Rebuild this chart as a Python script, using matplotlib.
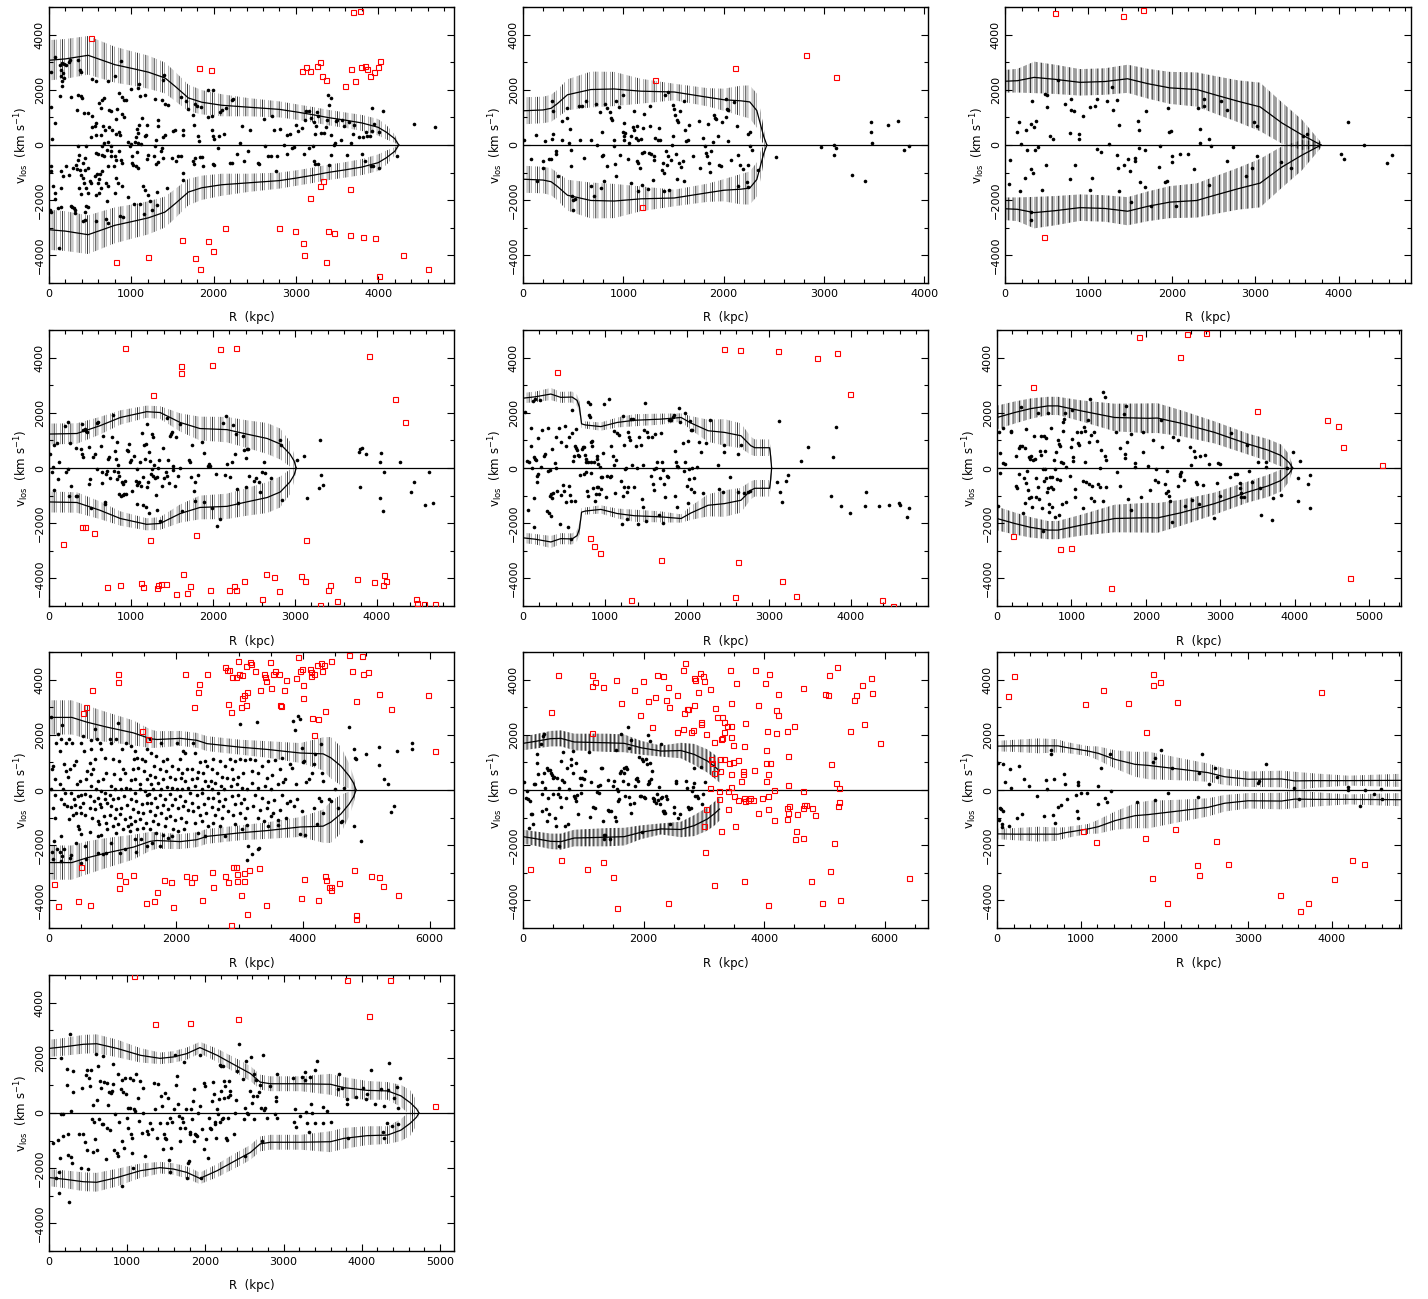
import numpy as np
import matplotlib
matplotlib.use("Agg")
import matplotlib.pyplot as plt
from matplotlib.ticker import MultipleLocator

plt.rcParams["font.family"] = ["DejaVu Sans"]
plt.rcParams["font.size"] = 8
plt.rcParams["hatch.linewidth"] = 0.55
plt.rcParams["axes.unicode_minus"] = True

# ---------------------------------------------------------------- cluster 1
members_1 = [
    (20,2636),(69,3180),(130,2914),(159,2974),(183,2938),(211,2914),(240,2998),(252,3071),(150,2732),(171,2611),
    (142,2491),(183,2430),(159,2309),(159,2128),(374,2708),(386,2648),(353,3095),(528,2394),(577,2309),(711,2333),
    (800,2491),(873,3035),(995,2031),(1076,2067),(1092,2212),(1397,2551),(1389,2370),(130,1765),(264,1741),(353,1801),
    (386,1765),(406,1705),(638,1644),(670,1717),(605,1523),(629,1342),(727,1257),(751,1221),(849,1886),(881,1741),
    (914,1644),(934,1644),(828,1306),(889,1136),(914,1016),(1105,1765),(1161,1826),(1287,1668),(1377,1644),(1409,1499),
    (1441,1463),(1600,1741),(1661,1584),(1685,1306),(1774,1499),(1795,1402),(1847,1378),(1937,2007),(1990,1983),(1754,1100),
    (1937,1003),(1981,1040),(2099,1282),(2079,1185),(2221,1644),(2241,1681),(2152,1342),(2343,701),(29,1378),(77,798),
    (37,230),(345,1282),(426,1161),(475,1161),(528,1040),(577,798),(556,701),(528,653),(658,701),(678,532),
    (731,653),(767,556),(812,955),(849,459),(861,375),(820,399),(1125,967),(1092,737),(1186,737),(1064,592),
    (1076,435),(1174,375),(1056,290),(1328,919),(1328,677),(1409,351),(1389,290),(1511,520),(1531,556),(1632,532),
    (1624,375),(1766,725),(1815,314),(1827,157),(1986,556),(1990,314),(2010,218),(2067,314),(2132,411),(2323,73),
    (516,278),(577,375),(629,375),(670,73),(719,97),(962,121),(995,48),(1044,97),(1084,73),(1113,48),
    (1165,314),(1295,169),
    (353,-48),(447,-48),(638,-24),(759,-48),(983,-24),(1287,-48),(1369,-109),(1360,-230),(366,-351),(353,-532),
    (414,-653),(435,-472),(577,-290),(597,-314),(646,-351),(670,-411),(699,-193),(759,-230),(751,-411),(800,-411),
    (849,-206),(820,-532),(873,-532),(881,-653),(792,-774),(1003,-411),(1064,-266),(1206,-351),(1186,-508),(1279,-411),
    (1295,-689),(1320,-629),(1389,-472),(1498,-472),(1539,-592),(1571,-411),(1604,-411),(1754,-592),(1774,-472),(1835,-435),
    (1864,-435),(1766,-677),(1876,-774),(1990,-677),(2002,-713),(2050,-109),(2201,-653),(2229,-653),(2363,-592),(2416,-206),
    (2282,-326),(29,-774),(20,-955),(49,-1499),(69,-1741),(142,-955),(171,-1136),(150,-1560),(211,-774),(244,-1076),
    (293,-834),(325,-713),(345,-870),(378,-895),(394,-1076),(414,-1197),(475,-834),(435,-895),(426,-1378),(455,-1560),
    (496,-1294),(508,-1378),(556,-1136),(589,-1040),(617,-1052),(638,-955),(605,-1233),(597,-1378),(629,-1560),(609,-1741),
    (577,-1801),(475,-1741),(711,-774),(690,-1378),(719,-1499),(820,-1197),(841,-1378),(881,-1475),(707,-2019),(800,-1741),
    (954,-1886),(1003,-653),(1023,-713),(1052,-774),(1084,-834),(1137,-1475),(1165,-1620),(1206,-1801),(1308,-1717),(1429,-1560),
    (1035,-2128),(1105,-2128),(1226,-2043),(1632,-1016),(1624,-1257),(69,-1959),(110,-2285),(150,-2261),(264,-2225),(280,-2249),
    (305,-2285),(321,-2345),(313,-2466),(435,-2442),(455,-2225),(475,-2249),(362,-1560),(394,-1777),(8,-2370),(29,-2442),
    (118,-3736),(414,-2769),(435,-2708),(577,-2769),(698,-2684),(719,-2829),(861,-2587),(902,-2611),(1157,-2503),(1247,-2370),
    (1308,-2164),
    (2609,942),(2710,1063),(2738,556),(2803,592),(2893,374),(2933,387),(3006,737),(3027,495),(3075,616),(3116,918),
    (3120,1220),(3156,1220),(3189,978),(3217,821),(3242,701),(3254,1196),(3266,1063),(3233,399),(3306,435),(3347,435),
    (3371,652),(3380,894),(3392,1824),(3404,1462),(3428,1703),(3420,374),(3469,72),(3481,858),(3497,906),(3546,193),
    (3554,894),(3582,676),(3643,834),(3696,399),(3704,713),(3765,302),(3814,278),(3850,459),(3866,314),(3899,338),
    (3919,1341),(3927,495),(3947,773),(4008,459),(4061,1220),(4438,773),(4686,652),(2438,556),
    (2629,-24),(2661,-411),(2698,-411),(2763,-954),(2771,-411),(2860,-12),(2893,-314),(2953,-109),(2974,-72),(3095,-338),
    (3156,-97),(3209,-48),(3217,-592),(3237,-676),(3266,-676),(3420,-374),(3615,-350),(3797,-338),(3834,-592),(3907,-773),
    (3931,-773),(4008,-833),(4231,-411),(3400,-713),(3663,72),(3461,0),(2548,-700),(2536,-652),
]
interlopers_1 = [
    (507,3878),(3696,4808),(3781,4844),(1822,2778),(1972,2706),(3071,2682),(3120,2827),(3168,2694),(3254,2851),(3290,2996),
    (3319,2488),(3371,2343),(3594,2138),(3663,2766),(3712,2307),(3789,2839),(3838,2851),(3866,2754),(3903,2488),(3951,2645),
    (4000,2827),(4016,3056),(3323,-1317),(3294,-1474),(3165,-1921),(3655,-1607),(2142,-3020),(1619,-3455),(1927,-3491),(1996,-3829),
    (2799,-3008),(2994,-3129),(3083,-3539),(3104,-3998),(3388,-3129),(3457,-3177),(3655,-3274),(3814,-3346),(3956,-3358),(3371,-4228),
    (4304,-3986),(1197,-4071),(811,-4252),(1769,-4083),(1834,-4494),(4008,-4735),(4600,-4482),
]
caustic_r_1 = [0,200,475,600,800,1000,1206,1409,1531,1693,1856,2099,2424,2800,3000,3200,3400,3600,3800,4000,4100,4200,4250]
caustic_v_1 = [3070,3120,3250,3120,2910,2780,2640,2430,2130,1705,1550,1440,1370,1290,1200,1100,990,900,800,640,460,230,0]
caustic_err_1 = [730,720,700,680,650,620,600,560,530,480,440,400,330,290,280,280,280,280,290,300,260,150,30]

# ---------------------------------------------------------------- cluster 2
members_2 = [
    (10,193),(83,-507),(133,374),(143,-1317),(200,-592),(200,-833),(220,133),(260,-507),(283,-507),(286,217),
    (296,411),(293,1582),(299,1220),(326,-229),(333,-314),(349,-1136),(386,193),(393,858),(436,978),(443,1341),
    (462,72),(473,592),(476,-169),(476,-749),(493,-1860),(499,-1981),(496,-2368),(522,-1957),(572,193),(562,1425),
    (586,1425),(609,-471),(626,1582),(676,193),(682,-1498),(709,-1860),(725,1486),(735,12),(769,1184),(785,459),
    (792,-411),(799,-350),(809,-1317),(775,-1558),(819,1486),(842,1341),(835,-773),(869,1184),(875,966),(882,894),
    (902,193),(909,-48),(915,-676),(925,-1136),(925,1582),(958,1377),(968,-350),(992,1824),(995,459),(1002,314),
    (1008,797),(1015,435),(1008,193),(1042,-507),(1058,72),(1075,338),(1075,-1377),(1095,652),(1105,1220),(1108,556),
    (1125,254),(1138,-592),(1141,676),(1148,-652),(1151,-1655),(1151,193),(1165,-833),(1175,217),(1181,-1438),(1188,-290),
    (1198,616),(1208,1123),(1208,-266),(1241,-1595),(1258,-290),(1268,701),(1268,1401),(1275,-314),(1291,-1256),(1305,-411),
    (1305,-532),(1318,254),(1341,193),(1358,616),(1368,193),(1381,-894),(1391,-652),(1401,-1015),(1408,-1679),(1414,1824),
    (1424,-229),(1434,-713),(1441,-411),(1448,1909),(1458,-1619),(1474,-532),(1484,12),(1491,1462),(1498,314),(1508,1305),
    (1514,1099),(1524,-314),(1531,-1220),(1534,894),(1548,821),(1554,-652),(1564,1220),(1574,-809),(1591,-568),(1604,-1317),
    (1614,556),(1607,1582),(1627,133),(1641,193),(1657,737),(1690,-411),(1757,858),(1767,-833),(1790,254),(1814,-48),
    (1824,-290),(1830,-411),(1840,761),(1850,-652),(1867,-978),(1877,-229),(1894,97),(1900,1099),(1913,978),(1923,954),
    (1940,314),(1957,-713),(1973,-773),(1980,821),(2020,1015),(2033,1305),(2040,1280),(2040,133),(2073,-532),(2100,1546),
    (2133,676),(2140,-350),(2146,-1498),(2163,-713),(2189,-858),(2240,411),(2260,459),(2266,-48),(2280,-169),(2243,-713),
    (2233,-1353),(2240,-1534),(2340,-894),(2523,-447),(2965,-85),(3098,12),(3098,-350),(3122,-121),(3278,-1099),(3405,-1293),
    (3468,821),(3468,471),(3474,72),(3641,713),(3737,858),(3794,-193),(3844,-24),(2020,1679),
]
interlopers_2 = [(1315,2356),(1188,-2235),(2113,2803),(2825,3274),(3115,2452)]
caustic_r_2 = [0,200,280,343,443,676,909,1175,1508,1840,2000,2173,2260,2330,2370,2400,2430]
caustic_v_2 = [1240,1270,1330,1500,1820,2010,2030,1950,1920,1730,1640,1600,1560,1250,700,300,0]
caustic_err_2 = [490,480,490,500,560,650,620,450,300,330,400,550,600,620,500,300,50]

# ---------------------------------------------------------------- cluster 3
members_3 = [
    (48,-1401),(60,-556),(144,459),(164,821),(180,-1655),(192,36),(240,-1208),(248,532),(264,-169),(313,761),
    (321,1582),(313,-858),(333,-1015),(313,-2428),(313,-2706),(345,640),(361,-193),(373,858),(393,-72),(441,-1643),
    (481,1860),(505,1824),(493,-713),(509,1377),(545,338),(573,217),(633,2343),(721,1498),(774,-1220),(778,423),
    (794,1667),(790,1280),(822,1244),(842,-713),(882,217),(886,399),(934,1039),(1014,1377),(1014,-1643),(1046,-1196),
    (1078,1425),(1106,-145),(1102,1667),(1154,-266),(1218,1607),(1250,48),(1287,2090),(1291,1256),(1339,1643),(1347,-362),
    (1359,-833),(1367,725),(1367,-1655),(1423,-713),(1479,-495),(1499,-954),(1507,-2066),(1555,-471),(1555,-568),(1595,882),
    (1607,556),(1607,-109),(1615,-1341),(1675,-193),(1675,-1522),(1687,1220),(1747,-2223),(1864,-24),(1844,-809),(1920,-1353),
    (1944,-1317),(1960,1329),(1964,459),(1988,495),(2004,-387),(2000,-616),(2048,-2223),(2100,-314),(2196,-314),(2268,-858),
    (2317,1341),(2341,592),(2341,72),(2381,1679),(2389,1401),(2441,230),(2445,-1438),(2465,-48),(2589,1582),(2661,1256),
    (2661,-592),(2729,-60),(2886,-1136),(2958,-833),(2982,821),(3026,676),(3018,-411),(3307,-616),(3431,-833),(3579,338),
    (3623,387),(4024,-326),(4060,-507),(4108,846),(4301,-12),(4585,-640),(4637,-374),
]
interlopers_3 = [(605,4784),(1419,4687),(1655,4880),(469,-3334)]
caustic_r_3 = [0,150,350,600,900,1200,1470,1715,1976,2300,2517,2800,3060,3320,3560,3790]
caustic_v_3 = [2310,2330,2450,2380,2270,2300,2400,2220,2070,2010,1820,1580,1380,800,370,0]
caustic_err_3 = [410,430,570,530,480,480,510,540,580,620,680,760,880,750,550,100]

# ---------------------------------------------------------------- cluster 4
members_4 = [
    (12,506),(33,-133),(53,24),(65,831),(65,-795),(102,904),(114,-398),(126,205),(195,1530),(208,-133),
    (228,1675),(236,-36),(248,-1024),(256,892),(264,-639),(326,711),(329,-1000),(346,-1000),(387,687),(399,1591),
    (407,506),(411,386),(419,1386),(440,1410),(452,1350),(468,1289),(484,-578),(492,747),(500,-398),(509,-1446),
    (533,410),(562,506),(582,1627),(590,-36),(602,1651),(631,807),(643,-133),(647,-554),(663,1145),(680,-1301),
    (684,-1217),(696,-217),(712,-96),(724,325),(728,386),(745,-374),(765,1109),(777,1916),(798,-96),(806,627),
    (814,325),(826,-398),(834,952),(842,-157),(846,108),(850,-277),(859,-940),(875,-1000),(887,-518),(899,-976),
    (907,-578),(916,-940),(924,-458),(940,-940),(948,651),(964,627),(981,868),(989,205),(997,301),(1009,-819),
    (1038,446),(1062,-482),(1070,-615),(1078,-36),(1078,-1301),(1090,-554),(1103,-494),(1111,205),(1119,-663),(1131,1265),
    (1143,-1337),(1152,-337),(1164,843),(1172,325),(1180,868),(1184,-1422),(1192,-675),(1200,1591),(1213,-494),(1221,-1627),
    (1225,590),(1233,265),(1241,-217),(1253,-36),(1261,1229),(1265,1109),(1274,-301),(1282,108),(1290,-374),(1302,-976),
    (1314,-337),(1314,-1506),(1335,-12),(1347,289),(1355,-1904),(1379,-639),(1396,723),(1408,-361),(1424,-157),(1436,1795),
    (1444,-277),(1457,301),(1469,-554),(1477,1169),(1485,1229),(1497,1289),(1510,84),(1518,-60),(1534,-663),(1550,1109),
    (1579,-301),(1599,-12),(1603,1591),(1619,-1542),(1713,301),(1721,229),(1729,-313),(1742,831),(1770,-819),(1782,-494),
    (1782,-1181),(1815,-253),(1868,952),(1892,542),(1892,-1241),(1933,60),(1949,145),(1965,84),(1990,-1458),(2039,-229),
    (2051,-2085),(2083,-1844),(2128,1615),(2148,-241),(2161,1892),(2169,145),(2209,-337),(2230,229),(2238,1567),(2266,494),
    (2275,1229),(2291,-759),(2311,-1277),(2372,1169),(2384,651),(2401,-699),(2405,349),(2413,687),(2433,687),(2445,-277),
    (2494,-458),(2527,-374),(2555,-494),(2576,-856),(2596,-133),(2616,205),(2637,-181),(2706,-361),(2812,1024),(2832,831),
    (2840,-1145),(3023,301),(3105,446),(3146,-1084),(3288,-723),(3308,1000),(3320,-253),(3341,-615),(3784,590),(3796,687),
    (3817,711),(3866,506),(3788,-699),(4032,205),(4053,530),(4032,-1084),(4073,-1554),(4081,-133),(4285,205),(4415,-856),
    (4448,-494),(4582,-1337),(4631,-157),(4684,-1277),
]
interlopers_4 = [
    (928,4362),(1607,3699),(1607,3434),(1986,3735),(2087,4302),(2283,4362),(1274,2627),(3902,4061),(4216,2482),(4346,1675),
    (175,-2747),(399,-2145),(440,-2145),(549,-2338),(1233,-2591),(1794,-2422),(3137,-2591),(712,-4314),(867,-4242),(1119,-4157),
    (1143,-4314),(1322,-4338),(1335,-4254),(1367,-4218),(1428,-4193),(1546,-4555),(1632,-3856),(1685,-4519),(1721,-4290),(1969,-4410),
    (2201,-4422),(2262,-4290),(2278,-4410),(2376,-4097),(2596,-4760),(2649,-3832),(2747,-3964),(2800,-4470),(3072,-3916),(3117,-4085),
    (3300,-4953),(3402,-4422),(3422,-4254),(3512,-4832),(3752,-4037),(3963,-4133),(4073,-4230),(4085,-3868),(4106,-4097),(4480,-4736),
    (4488,-4904),(4574,-4916),(4704,-4916),
]
caustic_r_4 = [0,340,620,870,1190,1355,1600,1840,2170,2410,2660,2820,2940,2990,3015]
caustic_v_4 = [1230,1250,1530,1830,2040,2010,1650,1430,1390,1230,1070,870,500,250,0]
caustic_err_4 = [380,370,320,260,220,230,330,430,460,500,560,560,450,250,30]

# ---------------------------------------------------------------- cluster 5
members_5 = [
    (24,2036),(45,265),(73,205),(94,807),(102,1434),(106,0),(122,2434),(135,386),(143,325),(147,2518),
    (155,289),(167,-301),(175,-494),(183,-217),(65,-1518),(135,-1084),(135,-2145),(188,1072),(204,2458),(224,48),
    (236,1374),(257,446),(265,506),(290,-1542),(306,-96),(306,1434),(318,-1627),(330,-72),(330,-1000),(338,-1723),
    (347,-940),(359,687),(359,-1096),(371,-904),(391,169),(400,0),(400,1109),(412,-819),(440,1434),(453,-2024),
    (469,928),(469,-964),(489,-615),(501,-819),(510,1530),(522,807),(530,-1217),(546,-2145),(563,1109),(563,-639),
    (575,-976),(583,-1181),(583,-2567),(595,1265),(603,2085),(612,265),(620,446),(632,807),(636,-1181),(652,1410),
    (652,711),(661,663),(677,470),(689,446),(697,-253),(726,687),(734,771),(746,747),(746,-217),(754,470),
    (766,325),(766,-157),(775,205),(787,-819),(791,205),(795,-1024),(799,2374),(807,1928),(815,2314),(820,1832),
    (828,928),(828,229),(836,-181),(844,807),(848,988),(856,-735),(868,205),(877,-1205),(893,-940),(901,325),
    (901,422),(909,-699),(917,-699),(921,145),(930,-940),(942,48),(950,-337),(958,-759),(970,-337),(982,542),
    (991,2314),(1011,-1060),(1031,-301),(1052,2518),(1060,-337),(1072,-301),(1076,783),(1093,446),(1105,120),(1113,1325),
    (1121,-916),(1133,289),(1146,1253),(1166,1205),(1195,-458),(1203,-2024),(1215,-1024),(1223,1892),(1227,843),(1235,-699),
    (1244,-36),(1256,0),(1268,-1844),(1268,-856),(1276,-699),(1284,1313),(1297,1133),(1309,1024),(1317,1771),(1325,108),
    (1341,1771),(1358,-675),(1378,807),(1386,0),(1407,-2024),(1419,1133),(1439,843),(1451,-1121),(1460,108),(1460,-1422),
    (1480,1386),(1492,2338),(1500,-1928),(1513,1289),(1521,1109),(1561,-277),(1574,1109),(1590,-578),(1602,-783),(1610,1229),
    (1602,-36),(1623,0),(1635,205),(1655,-1699),(1672,-361),(1684,1253),(1692,205),(1704,-60),(1712,-2000),(1725,-578),
    (1737,-1060),(1757,-301),(1765,-337),(1778,1735),(1806,1735),(1835,1832),(1847,1916),(1851,627),(1859,-1024),(1867,229),
    (1875,-1422),(1880,84),(1888,48),(1900,2157),(1920,1651),(1949,904),(1961,-120),(1977,205),(1977,1988),(2002,-663),
    (2010,988),(2010,-1265),(2026,-36),(2030,-398),(2043,1687),(2051,-759),(2051,1386),(2059,0),(2063,1386),(2083,-856),
    (2091,-374),(2124,24),(2144,952),(2173,566),(2193,-904),(2234,904),(2283,1735),(2377,108),(2397,-759),(2450,566),
    (2458,831),(2438,-880),(2532,-337),(2622,506),(2630,-880),(2662,831),(2695,-904),(2744,-880),(2776,-819),(3103,-518),
    (3131,1711),(3139,-856),(3160,-1217),(3213,-458),(3233,-253),(3396,265),(3478,747),(3755,-1024),(3783,386),(3824,1470),
    (3885,-1362),(3995,-1627),(4171,-1386),(4191,-856),(4342,-1386),(4464,-1337),(4591,-1277),(4607,-1337),(4693,-1783),(4709,-1458),
]
interlopers_5 = [
    (420,3470),(820,-2543),(868,-2844),(938,-3073),(1321,-4796),(1684,-3350),(2458,4302),(2650,4266),(2585,-4663),(2626,-3398),
    (3115,4230),(3164,-4085),(3327,-4639),(3592,4000),(3836,4181),(3995,2687),(4387,-4796),(4517,-4989),
]
caustic_r_5 = [0,150,340,460,600,660,690,715,760,950,1150,1360,1680,1930,2050,2260,2460,2660,2780,2830,3010,3025,3035]
caustic_v_5 = [2530,2580,2680,2560,2570,2450,2200,1600,1560,1500,1650,1730,1770,1830,1630,1350,1290,1170,810,735,735,400,0]
caustic_err_5 = [190,190,220,200,200,200,200,150,130,150,180,220,200,150,250,400,480,450,330,300,300,200,0]

# ---------------------------------------------------------------- cluster 6
members_6 = [
    (13,-1362),(36,530),(36,-181),(27,1313),(80,1434),(80,169),(103,145),(183,1350),(192,1289),(250,446),
    (259,-663),(273,-735),(291,711),(300,-217),(304,783),(326,2193),(335,807),(349,-1639),(362,-374),(371,-1265),
    (380,711),(385,-542),(394,1410),(402,-96),(416,-783),(425,386),(429,-1096),(438,325),(452,-1060),(461,446),
    (470,-1422),(483,301),(496,1169),(505,325),(519,-1060),(528,-374),(550,1988),(550,-699),(563,-1121),(572,627),
    (586,470),(595,1169),(604,-1458),(617,-36),(622,-2265),(631,1169),(635,-458),(640,627),(648,-36),(653,-374),
    (662,1072),(671,-856),(684,1976),(684,-735),(693,-1301),(698,-1603),(707,-337),(720,1434),(720,-699),(733,-337),
    (738,-1422),(751,-759),(765,301),(774,-1783),(783,-36),(796,590),(805,-398),(818,1024),(827,-1699),(832,868),
    (841,-434),(850,807),(863,205),(872,-1301),(881,181),(890,1675),(890,1350),(899,1771),(908,1988),(921,-1217),
    (921,24),(975,-301),(997,747),(1006,2109),(1011,1048),(1020,265),(1020,386),(1051,-759),(1042,-1036),(1078,1313),
    (1087,904),(1100,831),(1131,1313),(1154,-1458),(1154,-458),(1167,1470),(1176,1350),(1185,229),(1198,-518),(1221,1747),
    (1230,-578),(1234,928),(1243,2518),(1257,1193),(1266,-1084),(1279,-663),(1297,-1205),(1301,1289),(1346,988),(1355,-578),
    (1377,-699),(1386,0),(1400,663),(1422,2759),(1422,-1205),(1453,2590),(1453,422),(1467,289),(1467,-699),(1592,1289),
    (1610,-133),(1646,711),(1646,-663),(1699,1952),(1713,506),(1722,349),(1735,2229),(1744,952),(1757,-1121),(1793,-1506),
    (1802,1229),(1856,181),(1856,24),(1927,-1060),(1959,1289),(1959,566),(2026,60),(2048,-783),(2093,1024),(2115,-422),
    (2138,-36),(2160,-518),(2196,1747),(2218,747),(2249,-578),(2272,-904),(2281,-120),(2294,-819),(2308,-1000),(2316,-1181),
    (2348,-1964),(2361,1109),(2428,1012),(2428,-639),(2451,-217),(2460,-301),(2473,-157),(2504,-422),(2518,-1362),(2594,771),
    (2607,120),(2621,-1157),(2638,603),(2661,410),(2670,-518),(2688,-578),(2706,-1301),(2728,446),(2764,-602),(2786,470),
    (2840,145),(2907,-1820),(2947,-554),(2965,181),(2996,145),(2987,-1000),(3130,-313),(3144,1253),(3197,-217),(3224,-217),
    (3256,-554),(3265,-723),(3269,-1060),(3278,-904),(3309,-1060),(3354,831),(3381,-96),(3421,-494),(3502,229),(3533,-723),
    (3546,-1699),(3613,205),(3613,48),(3689,-1880),(3703,-1084),(3815,-976),(3891,0),(3971,566),(4038,-1181),(4047,-361),
    (4074,265),(4172,-590),(4204,-253),(4204,-1458),
]
interlopers_6 = [
    (1905,4748),(2554,4868),(2800,4880),(2455,4037),(479,2952),(3493,2073),(4427,1723),(4575,1518),(4642,771),(5165,108),
    (215,-2458),(841,-2940),(988,-2892),(1525,-4350),(4745,-3989),
]
caustic_r_6 = [0,237,450,684,818,1131,1579,2026,2151,2473,2920,3367,3636,3815,3920,3970]
caustic_v_6 = [1830,2010,2150,2250,2250,2070,1830,1800,1810,1620,1290,870,650,450,200,0]
caustic_err_6 = [430,400,370,330,330,380,500,540,540,470,400,380,400,400,300,50]

# ---------------------------------------------------------------- cluster 7
members_7 = [
    (37,2627),(205,2338),(142,2012),(195,1832),(116,1711),(274,1711),(173,1410),(63,868),(237,928),(47,771),
    (274,687),(300,482),(89,386),(168,205),(26,24),(221,24),(258,-96),(100,-193),(195,-337),(63,-639),
    (89,-1000),(237,-518),(289,-578),(184,-1663),(131,-2121),(168,-2241),(205,-2386),(195,-2567),(47,-2241),(79,-1844),
    (237,-2121),(63,-2506),
    (310,1832),(363,1711),(326,747),(395,892),(431,1048),(447,205),(484,325),(510,1711),(537,1952),(552,1410),
    (589,386),(605,687),(352,-96),(395,-337),(458,-217),(510,-193),(573,-157),(342,-603),(405,-554),(484,-603),
    (537,-458),(379,-916),(500,-843),(563,-916),(310,-1060),(431,-843),(458,-1301),(468,-1422),(431,-1928),(510,-1603),
    (563,-2024),(326,-2446),(352,-2362),(510,-2627),(589,-2506),
    (658,1807),(721,2217),(763,1832),(800,1711),(668,1470),(826,1494),(721,1133),(642,988),(879,1169),(695,747),
    (668,566),(773,325),(852,386),(905,627),(658,145),(747,48),(826,-36),(879,-96),(642,-217),(710,-398),
    (773,-277),(800,-518),(889,-337),(642,-639),(721,-699),(826,-603),(921,-458),(679,-1000),(773,-1121),(784,-1241),
    (868,-940),(905,-1181),(773,-1663),(826,-1639),(921,-1422),(642,-1518),(773,-2265),(852,-2326),(905,-2265),
    (958,1832),(984,1711),(1089,2434),(1063,1832),(1152,1470),(1221,1711),(1010,1109),(1100,1048),(1168,747),(1026,566),
    (1115,386),(1205,627),(973,145),(1037,48),(1131,24),(1221,84),(958,-193),(1010,-337),(1089,-277),(1184,-217),
    (984,-578),(1063,-699),(1142,-639),(1237,-554),(958,-916),(1037,-1000),(1115,-880),(1194,-1060),(1010,-1301),(1089,-1241),
    (1168,-1422),(1247,-1301),(1063,-1567),(984,-1904),(1115,-2265),(1205,-2145),
    (1289,1591),(1363,1410),(1342,1109),(1394,1169),(1458,1133),(1510,1048),(1537,1470),(1326,747),(1405,808),(1500,687),
    (1300,362),(1363,386),(1431,205),(1552,386),(1273,24),(1352,-96),(1431,48),(1510,-36),(1552,-193),(1289,-313),
    (1379,-398),(1458,-518),(1537,-458),(1326,-699),(1405,-795),(1484,-843),(1273,-964),(1352,-1121),(1431,-1060),(1521,-1181),
    (1300,-1241),(1394,-1422),(1484,-1362),(1273,-1482),(1363,-1783),(1447,-1759),(1537,-2024),(1379,-2241),
    (1589,1832),(1773,1711),(1615,1350),(1694,1229),(1800,1048),(1852,1109),(1658,868),(1747,747),(1837,687),(1589,530),
    (1668,482),(1800,386),(1615,205),(1721,265),(1852,120),(1642,48),(1773,24),(1573,-157),(1668,-277),(1747,-193),
    (1826,-337),(1615,-458),(1710,-603),(1800,-554),(1868,-699),(1589,-759),(1668,-916),(1763,-843),(1837,-1000),(1642,-1121),
    (1721,-1241),(1826,-1301),(1589,-1422),(1679,-1542),(1800,-1639),(1879,-1723),(1626,-1904),(1747,-2024),
    (2010,1711),(2116,1410),(2063,1109),(2142,1350),(1931,868),(2026,747),(2089,627),(2168,771),(1905,482),(1984,386),
    (2079,446),(2142,325),(1931,84),(2010,48),(2100,24),(2184,84),(1905,-157),(1984,-313),(2063,-217),(2142,-398),
    (1942,-554),(2026,-639),(2116,-578),(2184,-723),(1905,-940),(1984,-1084),(2079,-1000),(2152,-1157),(1958,-1398),(2037,-1482),
    (2131,-1422),(1942,-1663),
    (2273,1711),(2300,1350),(2458,1048),(2379,1012),(2484,868),(2247,747),(2342,651),(2431,603),(2247,386),(2326,446),
    (2458,325),(2300,145),(2405,48),(2500,145),(2221,-96),(2326,-193),(2416,-120),(2500,-277),(2247,-458),(2352,-603),
    (2447,-518),(2273,-759),(2379,-916),(2468,-819),(2300,-1181),(2405,-1121),(2500,-1301),(2352,-1542),(2458,-1663),
    (2589,1109),(2694,1048),(2773,868),(2563,747),(2642,627),(2721,482),(2800,446),(2552,325),(2616,265),(2710,145),
    (2563,24),(2668,-96),(2763,48),(2589,-277),(2679,-398),(2773,-337),(2563,-603),(2658,-699),(2747,-578),(2815,-759),
    (2616,-916),(2721,-1000),(2589,-1181),(2694,-1301),(2773,-1663),
    (2852,1109),(2931,1048),(3010,1109),(3089,1084),(2879,747),(2973,482),(3063,627),(2905,410),(2868,145),(2958,205),
    (3037,84),(3116,24),(2889,-217),(2984,-193),(3079,-337),(2931,-518),(3026,-458),(3116,-639),(2905,-916),(3010,-843),
    (3089,-1000),(2931,-1241),(3037,-1422),(3116,-1277),(3131,-2024),(3126,-2531),(3205,-2326),(3300,-2145),(3316,-2084),(3010,2374),
    (3273,2458),
    (3168,1109),(3247,1084),(3352,868),(3457,1048),(3563,1084),(3668,1169),(3194,687),(3300,627),(3431,446),(3521,530),
    (3642,747),(3721,386),(3205,265),(3300,84),(3405,145),(3500,24),(3615,205),(3694,289),(3247,-193),(3352,-277),
    (3457,-434),(3552,-362),(3668,-193),(3747,-458),(3221,-578),(3326,-723),(3431,-639),(3537,-819),(3642,-723),(3289,-1000),
    (3394,-1121),(3500,-940),(3615,-1084),(3731,-1000),(3457,-1301),(3615,-1277),
    (3805,928),(3831,783),(3847,2518),(3873,2157),(3895,205),(3926,2675),(3963,2555),(3989,1530),(4005,1024),(4026,1048),
    (4058,301),(4095,386),(4147,627),(4174,928),(4200,1289),(4279,1675),(4305,627),(4321,325),(3805,-398),(3858,-578),
    (3910,-337),(3989,-759),(3952,-1603),(4042,-1627),(4174,-639),(4226,-1241),(4253,-277),(4279,-398),(4321,-819),(4410,-337),
    (4437,-398),(4505,24),(4552,-639),(4595,-1145),(4621,-1121),(4647,60),(4726,2290),(4805,1470),(4831,1109),(4805,-1301),
    (4910,-1844),(4994,1313),(5200,1566),(5200,904),(5279,386),(5342,229),(5384,-783),(5437,-578),(5479,1410),(5715,1687),
    (5715,1470),(4815,1169),
]
interlopers_7 = [
    (1084,4205),(1095,3928),(684,3615),(584,3000),(537,2784),(1463,2133),(1568,1832),(2137,4218),(2289,3012),(2342,3543),
    (2358,3831),(2489,4218),(2779,4459),(2805,4350),(2837,4350),(2879,4097),(2816,3121),(2868,2844),(2984,4663),(2953,4085),
    (2995,4193),(3042,4181),(3026,3000),(3042,3326),(3079,3458),(3100,3097),(3121,3543),(3110,4495),(3163,4627),(3179,4567),
    (3253,4314),(3331,3615),(3384,4193),(3400,4097),(3416,3940),(3489,4627),(3495,3699),(3531,4205),(3568,4326),(3621,4218),
    (3637,3097),(3652,3061),(3700,3639),(3742,3988),(3926,4832),(3889,4061),(3963,4302),(3984,4386),(4005,3820),(4005,3326),
    (4110,4398),(4137,4266),(4137,4121),(4179,4218),(4147,2603),(4237,2579),(4174,2000),(4226,4543),(4289,4591),(4305,4326),
    (4331,4519),(4347,2880),(4447,4687),(4726,4880),(4768,4302),(4831,3217),(4931,4844),(4947,4193),(5026,4266),(5205,3494),
    (5384,2952),(5968,3458),(6079,1410),
    (79,-3398),(147,-4193),(463,-4025),(510,-2796),(642,-4169),(1100,-3085),(1100,-3543),(1195,-3302),(1331,-3085),(1526,-4097),
    (1658,-4025),(1700,-3711),(1816,-3266),(1926,-3338),(1947,-4254),(2158,-3109),(2242,-3338),(2289,-3157),(2416,-4001),(2563,-2988),
    (2589,-3519),(2774,-3109),(2821,-3338),(2874,-4880),(2905,-2784),(2953,-2784),(2958,-3037),(2958,-3302),(3026,-3808),(3079,-3302),
    (3068,-3025),(3152,-2892),(3126,-4495),(3310,-2832),(3421,-4169),(3973,-3904),(4016,-3229),(4242,-4001),(4347,-3109),(4368,-3278),
    (4410,-3507),(4437,-3531),(4447,-3615),(4574,-3362),(4805,-2892),(4831,-4519),(4831,-4675),(5068,-3109),(5205,-3145),(5258,-3482),
    (5500,-3808),
]
caustic_r_7 = [0,360,595,910,1330,1595,1700,2070,2330,2490,3020,3440,3960,4320,4440,4600,4730,4800,4840]
caustic_v_7 = [2630,2630,2460,2280,2070,1860,1830,1870,1800,1680,1550,1470,1340,1310,1170,870,510,250,0]
caustic_err_7 = [620,620,600,540,450,340,300,270,270,270,270,300,360,600,750,700,450,250,50]

# ---------------------------------------------------------------- cluster 8
members_8 = [
    (17,289),(44,-277),(72,-36),(89,-337),(111,-398),(127,-880),(155,-856),(100,-1386),(172,-1241),(183,205),
    (205,205),(227,1289),(238,988),(249,566),(294,1651),(310,301),(321,-133),(321,-759),(338,1952),(349,2012),
    (349,627),(360,84),(377,-675),(393,-1121),(404,807),(416,711),(416,-277),(432,-856),(449,711),(471,627),
    (488,530),(499,446),(504,-133),(515,470),(537,-1000),(554,-1313),(571,446),(582,-157),(598,84),(615,-253),
    (626,1048),(637,-615),(654,349),(670,1386),(681,301),(692,-1301),(709,-301),(726,783),(748,-1241),(770,24),
    (792,904),(803,1109),(598,-2024),(831,1410),(837,627),(848,-217),(864,-301),(875,-398),(886,988),(903,-181),
    (914,-880),(947,446),(958,169),(970,-96),(986,422),(1014,386),(1025,687),(1097,1374),(1108,-964),(1125,301),
    (1169,-615),(1197,-639),(1224,-60),(1252,145),(1263,-96),(1280,169),(1302,807),(1313,807),(1335,-1121),(1363,-1627),
    (1402,349),(1418,-723),(1429,-759),(1457,-759),(1446,-1759),(1485,145),(1512,325),(1524,-964),(1540,-1121),(1551,1434),
    (1557,24),(1579,-36),(1579,-398),(1596,-313),(1607,627),(1623,687),(1634,2012),(1651,325),(1668,627),(1679,783),
    (1690,-217),(1706,831),(1723,747),(1734,205),(1745,2277),(1751,1530),(1762,-253),(1773,-518),(1789,1795),(1789,-819),
    (1834,-482),(1856,145),(1872,386),(1883,446),(1900,325),(1928,1193),(1939,-217),(1956,-217),(1972,1109),(1994,1048),
    (2011,-253),(2022,-277),(2039,1109),(2050,952),(2066,1988),(2066,229),(2083,325),(2094,265),(2105,1771),(2111,988),
    (2122,386),(2133,687),(2149,-277),(2166,-398),(2177,-337),(2205,-458),(2222,-133),(2233,-374),(2260,108),(2271,-494),
    (2282,1651),(2288,-301),(2299,-253),(2316,-759),(2332,-819),(2343,-759),(2355,-819),(2371,-217),(2388,-337),(2537,325),
    (2537,265),(2565,-1000),(2609,-880),(2704,325),(2720,84),(2731,-602),(2759,-699),(2787,-639),(2798,-36),(2814,108),
    (2831,265),(2842,807),(2853,-217),(2886,-217),(2909,-277),(2953,831),(2969,-518),(2980,-133),(3019,289),(2499,-615),
    (2510,-819),(2443,-1241),(1346,-1783),(1346,-1639),(1972,-1518),
]
interlopers_8 = [
    (576,4157),(471,2832),(1152,4157),(1141,3772),(1191,3904),(1324,3748),(1141,2073),(1540,3977),(1629,3145),(1845,3627),
    (1945,2723),(1994,3964),(2072,3217),(2138,2290),(2188,3374),(2222,4169),(2316,4121),(2366,3254),(2410,3723),(2427,3024),
    (2554,3446),(2554,2097),(2660,4362),(2687,4591),(2660,2205),(2676,2796),(2720,2952),(2742,2952),(2787,2097),(2814,2157),
    (2831,4049),(2859,4000),(2842,3097),(2898,3567),(2936,4242),(2953,2374),(2958,2446),(2986,4121),(3008,3940),(3041,2012),
    (3108,3651),(3186,2976),(3174,1735),(3219,2639),(3296,2639),(3341,2470),(3379,2314),(3341,2097),(3285,1856),(3307,1880),
    (3440,4338),(3451,3157),(3451,2314),(3451,1916),(3485,1615),(3540,3880),(3684,2422),(3673,1591),(3856,4350),(3895,3097),
    (4083,4218),(4017,3880),(4227,3482),(4205,2916),(4227,2735),(4050,2133),(4205,2061),(4382,2133),(4498,2314),(4648,3711),
    (5003,3494),(5058,3434),(5075,4169),(5213,4471),(5424,2133),(5485,3277),(5529,3446),(5629,3796),(5651,2386),(5767,4061),
    (5789,3507),(5928,1687),(3119,1109),(3130,988),(3163,627),(3108,84),(3263,687),(3274,1121),(3341,1109),(3424,988),
    (3485,1024),(3568,1085),(3451,566),(3618,325),(3645,687),(3645,566),(3839,723),(4039,1434),(4034,988),(4105,976),
    (4061,590),(4034,325),(4393,1229),(4393,181),(4172,0),(4643,-48),(5113,928),(5197,265),(5236,84),(3030,-699),
    (3008,-1301),(3246,-48),(3246,-337),(3285,-1482),(3407,-36),(3407,-699),(3451,108),(3507,-217),(3562,-361),(3518,-1301),
    (3662,-277),(3684,-398),(3739,-374),(3762,-277),(3811,-374),(3967,-289),(4061,-217),(4061,-699),(3906,-843),(4161,-1096),
    (4382,-663),(4393,-819),(4421,-578),(4382,-1060),(4548,-880),(4537,-1482),(4515,-1783),(4643,-639),(4659,-542),(4687,-542),
    (4648,-1747),(4792,-663),(4837,-904),(5158,-1916),(5225,-578),(5236,-422),(3025,-2241),(3163,-3458),(3662,-3290),(4066,-4157),
    (4781,-3290),(4958,-4085),(5097,-2952),(5258,-3988),(6399,-3193),(2399,-4109),(1557,-4278),(1485,-3169),(1335,-2591),(1058,-2880),
    (637,-2531),(122,-2868),
]
caustic_r_8 = [0,200,460,630,850,1400,1680,1960,2290,2620,2840,3060,3180,3260]
caustic_v_8 = [1690,1760,1860,1870,1740,1710,1690,1530,1410,1430,1290,1050,850,690]
caustic_err_8 = [250,260,280,290,300,330,320,250,200,280,380,420,430,420]

# ---------------------------------------------------------------- cluster 9
members_9 = [
    (12,964),(72,928),(100,289),(152,747),(171,84),(259,868),(319,410),(383,145),(20,-1084),(40,-663),
    (52,-687),(72,-759),(60,-1241),(64,-1337),(140,-1301),(243,-1000),(299,-880),(479,-229),(558,-952),(582,349),
    (594,24),(650,1446),(650,1289),(674,-904),(682,386),(698,-1205),(730,-602),(770,-542),(802,566),(810,229),
    (837,-337),(949,-181),(961,-759),(969,-1000),(969,301),(969,181),(1009,-96),(1073,-120),(1208,-518),(1208,145),
    (1248,795),(1296,-301),(1316,-446),(1356,1289),(1360,-36),(1679,-422),(1866,1024),(1886,1169),(1894,-374),(1954,1446),
    (2046,-120),(2086,807),(2397,-253),(2417,627),(2445,1289),(2532,205),(2604,807),(2624,470),(3123,265),(3131,325),
    (3210,928),(3545,60),(3613,-313),(4191,108),(4191,12),(4339,-578),(4399,0),(4502,-157),(4586,48),(4598,-337),
]
interlopers_9 = [
    (128,3422),(199,4133),(1057,3133),(1272,3627),(1563,3157),(1862,4193),(1862,3796),(1946,3904),(2150,3181),(1783,2085),
    (3876,3543),(1033,-1494),(1184,-1868),(1771,-1723),(2126,-1398),(2620,-1844),(1850,-3193),(2026,-4085),(2385,-2711),(2413,-3073),
    (2764,-2687),(3382,-3808),(3621,-4398),(3721,-4085),(4024,-3241),(4243,-2543),(4391,-2687),
]
caustic_r_9 = [0,210,500,730,810,1090,1210,1410,1650,1810,2200,2520,2720,3000,3400,3560,3800,4200,4840]
caustic_v_9 = [1590,1600,1600,1600,1550,1410,1330,1110,930,890,750,630,480,390,400,330,340,340,350]
caustic_err_9 = [190,220,270,240,200,180,250,330,450,500,400,330,300,280,300,330,260,180,240]

# ---------------------------------------------------------------- cluster 10
members_10 = [
    (47,-1075),(90,-2368),(111,-978),(132,-2887),(132,-2126),(141,-1619),(149,-24),(154,2005),(175,-48),(175,-834),
    (248,-749),(226,1015),(226,1582),(248,-1522),(260,-3225),(269,2851),(278,72),(282,-1582),(290,-1800),(303,761),
    (303,1522),(384,-749),(406,-1981),(418,918),(440,-773),(461,-1039),(483,1558),(474,1377),(491,-1353),(504,-2042),
    (517,1280),(525,978),(534,1546),(547,-230),(559,290),(568,-1413),(581,-326),(589,-954),(598,2150),(611,459),
    (619,-1353),(632,1703),(645,-230),(653,1160),(666,894),(675,-411),(687,2066),(696,-387),(705,1136),(730,-1679),
    (739,-532),(747,1099),(760,290),(773,761),(781,-628),(790,737),(803,797),(816,1788),(816,1039),(837,-1353),
    (845,-24),(867,-1438),(888,1401),(888,-1558),(901,-314),(918,858),(931,1184),(931,-1015),(939,-2645),(952,773),
    (965,-1256),(974,1256),(986,701),(995,-193),(1008,193),(1016,-532),(1038,1280),(1042,169),(1050,-773),(1059,-918),
    (1063,-1438),(1072,-1981),(1080,1184),(1089,133),(1102,72),(1114,1425),(1132,532),(1157,-290),(1166,1160),(1187,-713),
    (1200,918),(1208,12),(1230,-1558),(1251,-652),(1264,-773),(1294,-350),(1315,-592),(1345,1099),(1358,133),(1379,-894),
    (1388,1039),(1413,-350),(1430,616),(1444,254),(1456,-1317),(1465,-773),(1477,-894),(1486,737),(1499,-954),(1507,-350),
    (1520,556),(1529,-1715),(1541,-2126),(1550,-169),(1559,-1256),(1571,-314),(1593,133),(1614,2090),(1627,1015),(1635,1341),
    (1648,338),(1657,-109),(1670,-1015),(1678,-532),(1699,-193),(1712,-314),(1729,1848),(1742,-532),(1751,133),(1763,-2368),
    (1772,-1800),(1785,-1739),(1798,-773),(1806,-689),(1815,133),(1828,-230),(1840,435),(1849,-1015),(1857,858),(1870,-773),
    (1879,-797),(1892,-834),(1900,12),(1926,2102),(1934,254),(1947,-2368),(1956,-592),(1977,1099),(1986,-1317),(1998,978),
    (2011,-954),(2033,-1643),(2041,-193),(2054,-532),(2071,-568),(2084,435),(2092,1123),(2105,676),(2118,-411),(2126,-314),
    (2139,-894),(2148,133),(2156,-48),(2169,519),(2182,1739),(2190,-326),(2199,797),(2203,1691),(2212,-230),(2220,-193),
    (2225,1703),(2233,556),(2242,1160),(2255,978),(2267,-918),(2276,-991),(2284,580),(2293,-169),(2297,1160),(2310,652),
    (2319,797),(2361,-749),(2383,12),(2396,459),(2404,1522),(2425,2513),(2481,1220),(2489,-230),(2502,-1558),(2511,169),
    (2524,1884),(2532,12),(2541,-48),(2566,797),(2583,2029),(2596,374),(2609,616),(2617,1401),(2626,-230),(2652,1184),
    (2660,616),(2682,773),(2695,1015),(2711,169),(2724,-1015),(2737,2090),(2746,97),(2767,193),(2788,-193),(2822,978),
    (2895,-24),(2904,580),(2908,435),(2916,-169),(2916,1425),(3121,1280),(3130,-314),(3151,145),(3164,-507),(3215,-109),
    (3237,1317),(3267,1184),(3279,1498),(3292,48),(3301,-350),(3322,-676),(3335,1305),(3352,338),(3365,-12),(3395,1546),
    (3407,-362),(3429,1884),(3506,217),(3506,-362),(3557,72),(3612,-314),(3694,858),(3707,1425),(3749,894),(3813,314),
    (3813,495),(3826,-894),(3920,592),(4010,918),(4048,519),(4069,701),(4121,1546),(4168,338),(4240,858),(4274,-676),
    (4283,254),(4283,-918),(4317,-350),(4338,821),(4347,1824),(4390,-471),(4411,556),(4454,954),(4462,-387),(4467,181),
    (4488,1280),
]
interlopers_10 = [(1089,4965),(1358,3237),(1806,3262),(2421,3394),(3805,4808),(4086,3503),(4360,4808),(4932,254)]
caustic_r_10 = [0,200,440,610,870,1170,1420,1590,1760,1930,2150,2400,2575,2700,2830,3220,3600,3770,4070,4330,4500,4620,4700,4730]
caustic_v_10 = [2340,2400,2490,2510,2340,2090,1980,2030,2150,2370,2090,1700,1430,1120,1060,1060,1040,920,820,800,620,370,150,0]
caustic_err_10 = [310,320,340,340,320,260,210,210,220,210,240,270,270,270,270,270,380,380,340,320,400,450,300,50]

# ---------------------------------------------------------------- layout
FIG_W, FIG_H = 1428, 1299
# axes boxes in pixels: left, top, right, bottom
BOXES = [
    (49, 7, 454, 283), (523, 7, 928, 283), (1005, 7, 1411, 283),
    (49, 330, 454, 606), (523, 330, 928, 606), (997, 330, 1401, 606),
    (49, 652, 454, 928), (523, 652, 928, 928), (997, 652, 1401, 928),
    (49, 975, 454, 1251),
]
PANELS = [
    (members_1, interlopers_1, caustic_r_1, caustic_v_1, caustic_err_1, ("||", "||||"), 1000, 200),
    (members_2, interlopers_2, caustic_r_2, caustic_v_2, caustic_err_2, ("||", "||||"), 1000, 200),
    (members_3, interlopers_3, caustic_r_3, caustic_v_3, caustic_err_3, ("|||", "||||||"), 1000, 200),
    (members_4, interlopers_4, caustic_r_4, caustic_v_4, caustic_err_4, ("||", "||||"), 1000, 200),
    (members_5, interlopers_5, caustic_r_5, caustic_v_5, caustic_err_5, ("||", "||||"), 1000, 200),
    (members_6, interlopers_6, caustic_r_6, caustic_v_6, caustic_err_6, ("|||", "||||||"), 1000, 200),
    (members_7, interlopers_7, caustic_r_7, caustic_v_7, caustic_err_7, ("||", "||||"), 2000, 500),
    (members_8, interlopers_8, caustic_r_8, caustic_v_8, caustic_err_8, ("||||", "||||||||"), 2000, 500),
    (members_9, interlopers_9, caustic_r_9, caustic_v_9, caustic_err_9, ("||", "||||"), 1000, 200),
    (members_10, interlopers_10, caustic_r_10, caustic_v_10, caustic_err_10, ("||", "||||"), 1000, 200),
]


def draw_panel(ax, members, interlopers, cr, cv, ce, hatches, xmajor, xminor):
    m = np.asarray(members, float)
    it = np.asarray(interlopers, float)
    r = np.asarray(cr, float)
    v = np.asarray(cv, float)
    e = np.asarray(ce, float)
    xmax = 1.05 * max(m[:, 0].max(), it[:, 0].max())

    # caustic amplitude with its uncertainty band drawn as vertical bars
    for sign in (1, -1):
        for colour, hatch in (("#8a8a8a", hatches[1]), ("black", hatches[0])):
            ax.fill_between(r, sign * v - e, sign * v + e, facecolor="none",
                            edgecolor=colour, hatch=hatch, linewidth=0, zorder=1)
        ax.plot(r, sign * v, color="black", lw=0.9, zorder=2)

    ax.axhline(0, color="black", lw=0.9, zorder=2)
    ax.plot(m[:, 0], m[:, 1], "o", ms=2.6, color="black", mec="none", zorder=3)
    ax.plot(it[:, 0], it[:, 1], "s", ms=3.6, mfc="none", mec="red", mew=0.8, zorder=3)

    ax.set_xlim(0, xmax)
    ax.set_ylim(-5000, 5000)
    ax.xaxis.set_major_locator(MultipleLocator(xmajor))
    ax.xaxis.set_minor_locator(MultipleLocator(xminor))
    ax.yaxis.set_major_locator(MultipleLocator(2000))
    ax.yaxis.set_minor_locator(MultipleLocator(1000))
    ax.tick_params(which="both", direction="in", top=True, right=True, width=0.8)
    ax.tick_params(which="major", length=5)
    ax.tick_params(which="minor", length=3)
    ax.tick_params(axis="x", pad=4)
    ax.tick_params(axis="y", pad=3, labelrotation=90)
    for lab in ax.get_yticklabels():
        lab.set_va("center")
    for sp in ax.spines.values():
        sp.set_linewidth(1.0)

    ax.set_xlabel("R  (kpc)", fontsize=8.5, va="center")
    ax.set_ylabel(r"v$_{\rm los}$  (km s$^{-1}$)", fontsize=8.5, va="center")


fig = plt.figure(figsize=(FIG_W / 100, FIG_H / 100), dpi=100)
for (l, t, rgt, b), spec in zip(BOXES, PANELS):
    ax = fig.add_axes([l / FIG_W, 1 - b / FIG_H, (rgt - l) / FIG_W, (b - t) / FIG_H])
    draw_panel(ax, *spec)
    w_px, h_px = rgt - l, b - t
    ax.xaxis.set_label_coords(0.5, -35 / h_px)
    ax.yaxis.set_label_coords(-27 / w_px, 0.5)

fig.savefig("out.png", dpi=100)
